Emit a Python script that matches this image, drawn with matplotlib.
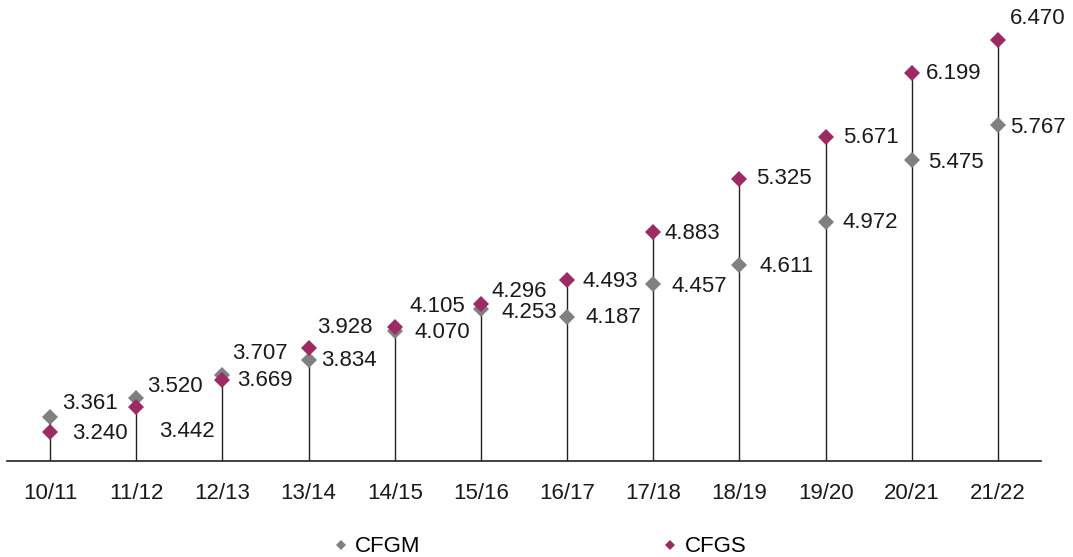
import matplotlib
matplotlib.use("Agg")
import matplotlib.pyplot as plt

plt.rcParams['font.family'] = ['Liberation Sans', 'DejaVu Sans']

cursos = ["10/11", "11/12", "12/13", "13/14", "14/15", "15/16",
          "16/17", "17/18", "18/19", "19/20", "20/21", "21/22"]
cfgm = [3.361, 3.520, 3.707, 3.834, 4.070, 4.253,
        4.187, 4.457, 4.611, 4.972, 5.475, 5.767]
cfgs = [3.240, 3.442, 3.669, 3.928, 4.105, 4.296,
        4.493, 4.883, 5.325, 5.671, 6.199, 6.470]

# label offsets in pixels (dx, dy), as placed in the original chart
off_cfgm = [(12, 14), (11, 11), (10, 22), (13, -1), (20, -1), (21, -4),
            (18, -1), (18, -2), (20, -1), (17, -1), (16, -2), (12, -2)]
off_cfgs = [(22, -2), (23, -24), (15, -1), (9, 21), (15, 20), (11, 12),
            (15, -2), (11, -1), (17, 0), (17, -1), (14, -1), (12, 21)]

gris = "#808080"
granate = "#9c2b63"

fig = plt.figure(figsize=(10.73, 5.57), dpi=100)
ax = fig.add_axes([6.9 / 1073, 0.1724, 1034.2 / 1073, 0.8276])

x = list(range(len(cursos)))
ax.vlines(x, 3.0, [max(a, b) for a, b in zip(cfgm, cfgs)],
          color="#222222", lw=1.0, zorder=1)
ax.plot(x, cfgm, ls="none", marker="D", ms=8, mew=0, color=gris,
        label="CFGM", zorder=3)
ax.plot(x, cfgs, ls="none", marker="D", ms=8, mew=0, color=granate,
        label="CFGS", zorder=4)

for i in x:
    for vals, offs in ((cfgm, off_cfgm), (cfgs, off_cfgs)):
        ax.annotate(f"{vals[i]:.3f}", (i, vals[i]), xytext=offs[i],
                    textcoords="offset pixels", ha="left", va="center",
                    fontsize=16, color="#1a1a1a")

ax.set_xlim(-0.5, 11.5)
ax.set_ylim(3.0, 6.797)
ax.set_xticks(x)
ax.set_xticklabels(cursos, fontsize=16, color="#1a1a1a")
ax.tick_params(axis="x", length=0, pad=16)
ax.set_yticks([])
for s in ("top", "right", "left"):
    ax.spines[s].set_visible(False)
ax.spines["bottom"].set_color("#222222")
ax.spines["bottom"].set_linewidth(1.2)

fig.legend(loc="center", bbox_to_anchor=(0.503, 0.018), ncol=2,
           frameon=False, fontsize=16, markerscale=0.6, handlelength=0.7,
           handletextpad=0.3, columnspacing=10.9)

fig.savefig("out.png", dpi=100)
